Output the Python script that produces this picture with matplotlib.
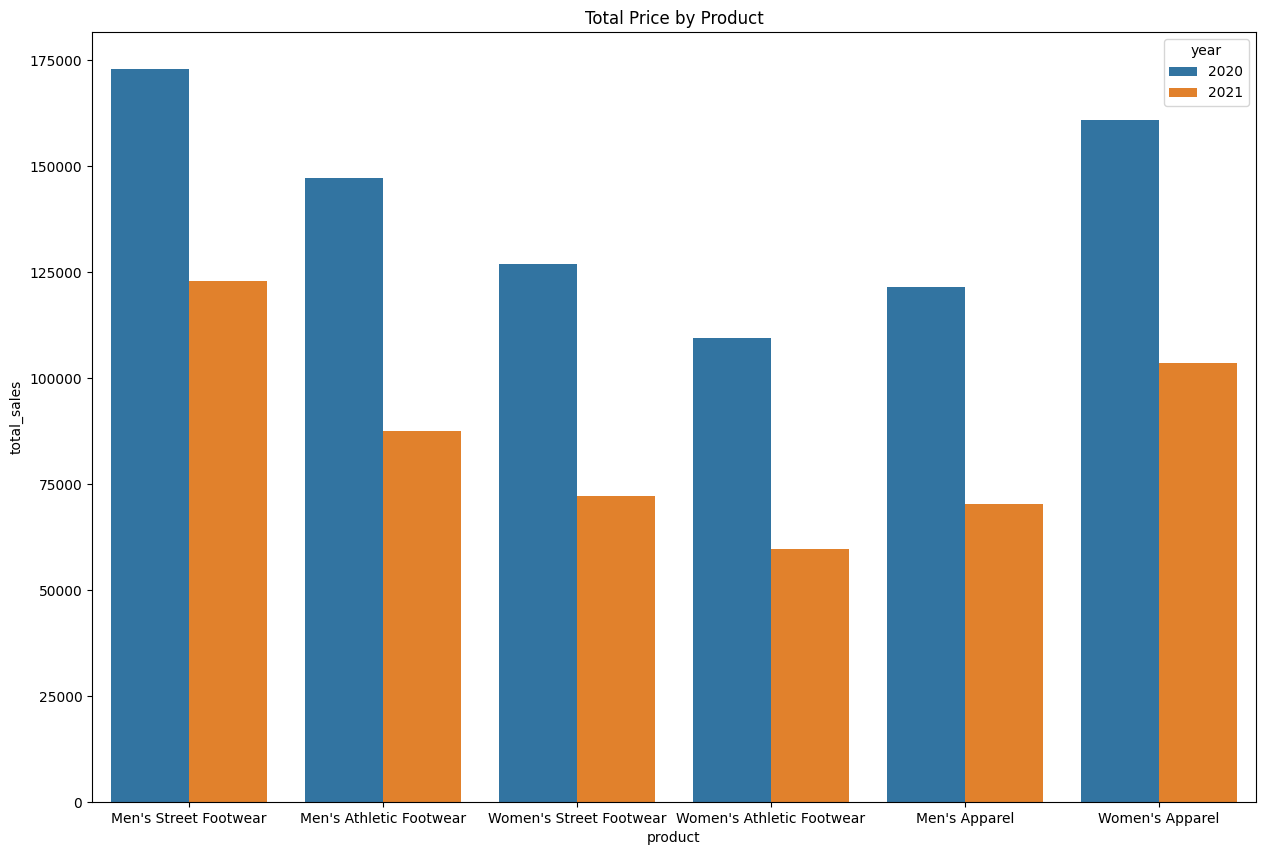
import matplotlib
matplotlib.use("Agg")
import matplotlib.pyplot as plt
import seaborn as sns
import pandas as pd

products = ["Men's Street Footwear", "Men's Athletic Footwear", "Women's Street Footwear",
            "Women's Athletic Footwear", "Men's Apparel", "Women's Apparel"]
years = [2020, 2021]
sales_2020 = [173000, 147300, 127000, 109500, 121500, 160900]
sales_2021 = [123000, 87600, 72300, 59800, 70200, 103600]

df = pd.DataFrame({
    "product": products * 2,
    "year": [years[0]] * len(products) + [years[1]] * len(products),
    "total_sales": sales_2020 + sales_2021,
})

fig = plt.figure(figsize=(12.64, 8.55), dpi=100)
ax = fig.add_axes([92/1264, 53/855, (1256-92)/1264, (802-32)/855])
sns.barplot(data=df, x="product", y="total_sales", hue="year", ax=ax,
            palette=["#1f77b4", "#ff7f0e"], errorbar=None)
ax.set_title("Total Price by Product")
fig.savefig("out.png", dpi=100)
